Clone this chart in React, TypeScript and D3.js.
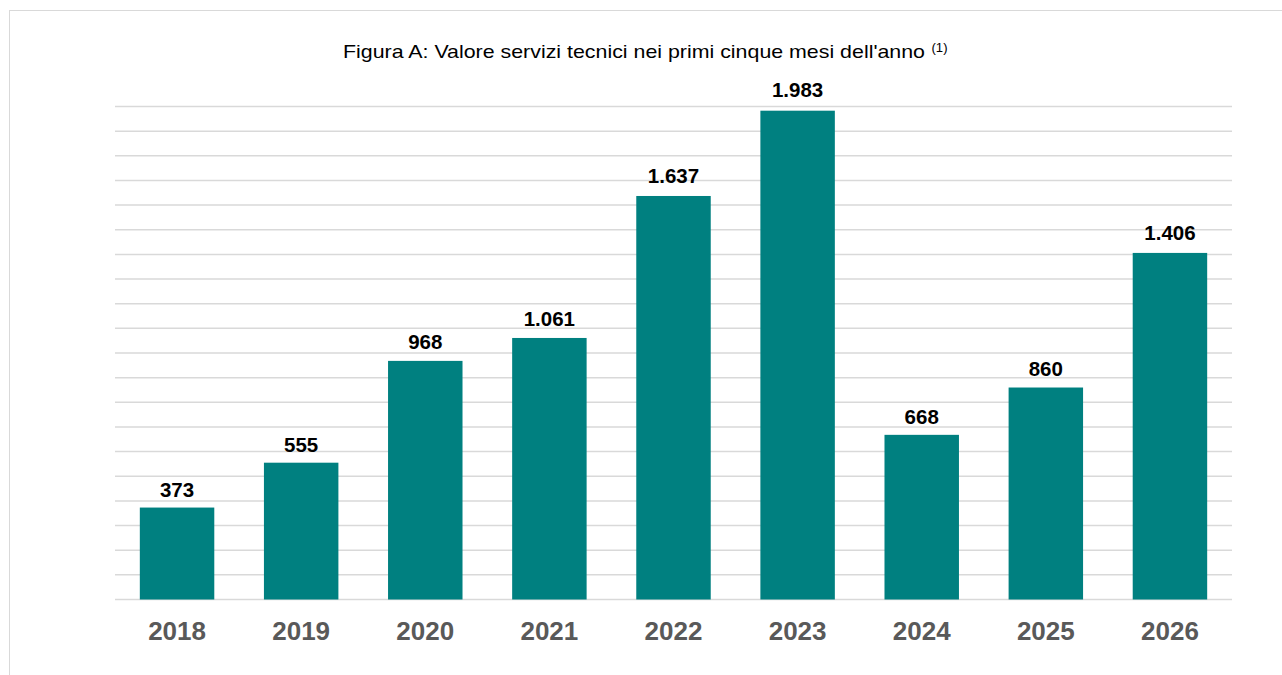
import React from "react";
import * as d3 from "d3";

const years = ["2018", "2019", "2020", "2021", "2022", "2023", "2024", "2025", "2026"];
const values = [373, 555, 968, 1061, 1637, 1983, 668, 860, 1406];
const gridTicks = d3.range(0, 2001, 100);
const title = "Figura A: Valore servizi tecnici nei primi cinque mesi dell'anno";
const titleNote = "(1)";

const W = 1282;
const H = 675;
const left = 115;
const right = 1232;
const top = 106.5;
const bottom = 599.5;

const fmt = (v: number) => String(v).replace(/\B(?=(\d{3})+(?!\d))/g, ".");

export default function App() {
  const x = d3.scaleBand<string>().domain(years).range([left, right]).paddingInner(0.4).paddingOuter(0.2);
  const y = d3.scaleLinear().domain([0, 2000]).range([bottom, top]);
  const font = "'Liberation Sans', Arial, sans-serif";
  return (
    <svg width={W} height={H} style={{ position: "absolute", left: 0, top: 0 }} fontFamily={font}>
      <rect x={0} y={0} width={W} height={H} fill="#fff" />
      <rect x={9.5} y={10.5} width={1300} height={700} fill="none" stroke="#d9d9d9" strokeWidth={1} />
      <text x={343} y={57.5} fontSize={19} fill="#000" textLength={582} lengthAdjust="spacingAndGlyphs">
        {title}
      </text>
      <text x={931.5} y={52} fontSize={12} fill="#000" textLength={16} lengthAdjust="spacingAndGlyphs">
        {titleNote}
      </text>
      {gridTicks.map((t) => (
        <line key={t} x1={left} x2={right} y1={y(t)} y2={y(t)} stroke="#d9d9d9" strokeWidth={1.5} />
      ))}
      {years.map((yr, i) => {
        const cx = (x(yr) as number) + x.bandwidth() / 2;
        return (
          <g key={yr}>
            <rect x={x(yr)} y={y(values[i])} width={x.bandwidth()} height={bottom - y(values[i])} fill="#008080" />
            <text x={cx} y={y(values[i]) - 10 - values[i] * 0.002} textAnchor="middle" fontSize={20.5} fontWeight="bold" fill="#000">
              {fmt(values[i])}
            </text>
            <text x={cx} y={640} textAnchor="middle" fontSize={26} fontWeight="bold" fill="#595959">
              {yr}
            </text>
          </g>
        );
      })}
    </svg>
  );
}
